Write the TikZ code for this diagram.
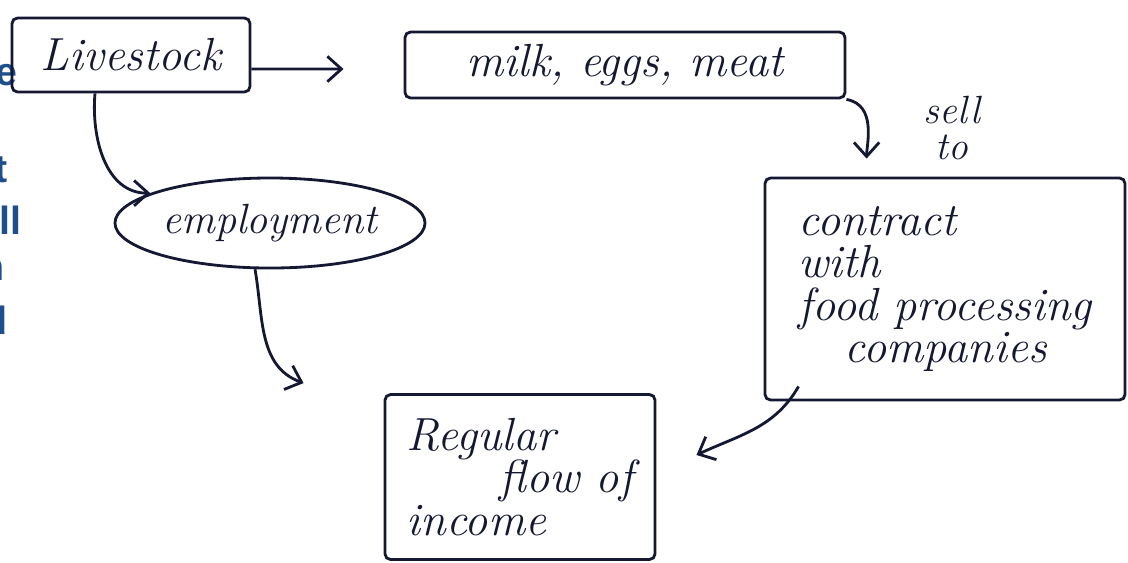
\documentclass[tikz,border=0pt]{standalone}
\usepackage{fontspec}
\usepackage{xcolor}
\usetikzlibrary{arrows.meta, positioning, shapes.geometric}

\definecolor{ink}{HTML}{141833}
\definecolor{slideblue}{HTML}{1F4E8C}
\newfontfamily\slidefont{Liberation Sans}

\begin{document}
\begin{tikzpicture}[
    x=0.025cm, y=-0.025cm,
    >={Straight Barb[length=10pt, width=18pt]},
    every node/.style={font=\fontsize{33}{36}\selectfont\itshape, text=ink},
    box/.style={draw=ink, line width=2pt, rounded corners=4pt},
    oval/.style={ellipse, draw=ink, line width=2pt, inner sep=0pt,
      font=\fontsize{30}{36}\selectfont\itshape},
    link/.style={->, draw=ink, line width=2pt},
    tight/.style={font=\fontsize{33}{30}\selectfont\itshape},
    cut/.style={anchor=east, inner sep=0pt, text=slideblue,
      font=\slidefont\bfseries\fontsize{28}{32}\selectfont}
  ]
  \useasboundingbox (0,0) rectangle (1128,562);

  % cut-off slide text on the left
  \node[cut] (cut1) at (18,75)  {e};
  \node[cut] (cut2) at (8,170)  {t};
  \node[cut] (cut3) at (22,220) {ll};
  \node[cut] (cut4) at (5,270)  {n};
  \node[cut] (cut5) at (8,320)  {d};

  % Boxes
  \node[box, minimum width=5.95cm, minimum height=1.85cm] (live) at (131,55) {Livestock};
  \node[box, minimum width=11cm, minimum height=1.65cm] (prod) at (625,65) {milk, eggs, meat};
  \node[oval, minimum width=7.75cm, minimum height=2.25cm] (emp) at (270,223) {employment};
  \node[box, tight, minimum width=9cm, minimum height=5.55cm, align=left] (contract) at (945,289)
    {contract\\with\\food processing\\\quad companies};
  \node[box, tight, minimum width=6.75cm, minimum height=4.125cm, align=left] (reg) at (520,477)
    {Regular\\\qquad flow of\\income};
  \node[align=center, font=\fontsize{28}{26}\selectfont\itshape] (sell) at (952,128) {sell\\to};

  % Arrows
  \draw[link, shorten >=1.5cm] ([yshift=-0.35cm]live.east) -- ([yshift=-0.1cm]prod.west);
  \draw[link, shorten >=0.45cm] (prod.south east) to[out=-10, in=90] ([xshift=2.575cm]contract.north west);
  \draw[link] ([xshift=-0.9cm]live.south) to[out=-95, in=180] (emp.166);
  \draw[link] (emp.252) to[out=-80, in=160] ([xshift=-2cm, yshift=0.25cm]reg.north west);
  \draw[link] ([xshift=0.875cm, yshift=0.375cm]contract.south west) to[out=-120, in=25] ([xshift=1cm, yshift=0.55cm]reg.east);
\end{tikzpicture}
\end{document}
